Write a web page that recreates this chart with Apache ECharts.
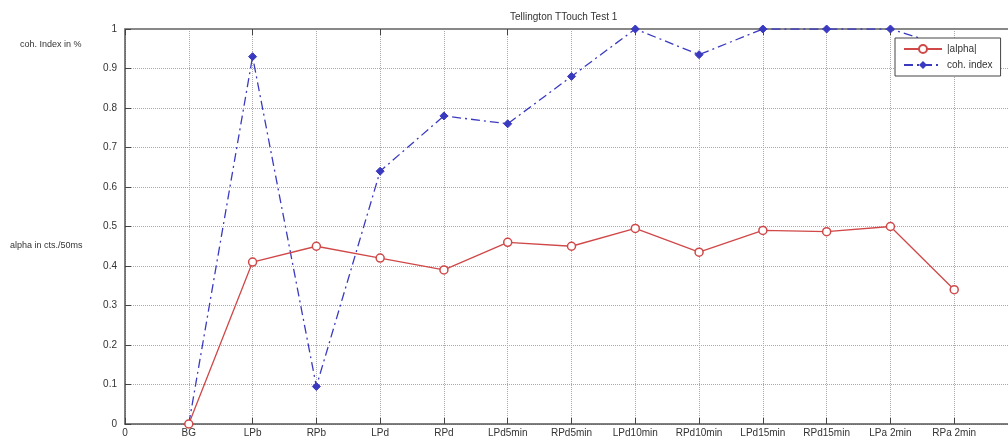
<!DOCTYPE html>
<html><head><meta charset="utf-8">
<script src="https://cdn.jsdelivr.net/npm/echarts@6/dist/echarts.min.js"></script>
<style>html,body{margin:0;padding:0;background:#fff;overflow:hidden}#c{width:1030px;height:441px}</style>
</head><body><div id="c"></div>
<script>
const categories = ['0','BG','LPb','RPb','LPd','RPd','LPd5min','RPd5min','LPd10min','RPd10min','LPd15min','RPd15min','LPa 2min','RPa 2min',''];
const alphaValues = [null,0,0.41,0.45,0.42,0.39,0.46,0.45,0.495,0.435,0.49,0.487,0.50,0.34];
const cohValues = [null,0,0.93,0.095,0.64,0.78,0.76,0.88,1.0,0.935,1.0,1.0,1.0,0.95];
const yTicks = [0,0.1,0.2,0.3,0.4,0.5,0.6,0.7,0.8,0.9,1];
const FONT = 'Liberation Sans, Arial, sans-serif';
const chart = echarts.init(document.getElementById('c'));
chart.setOption({
  animation:false,
  backgroundColor:'#fff',
  title:{text:'Tellington TTouch Test 1',left:505,top:7,textStyle:{fontSize:10,fontWeight:'normal',color:'#333',fontFamily:FONT}},
  grid:{left:125,top:29,right:12,bottom:17},
  legend:{orient:'vertical',left:895,top:38,padding:[6,8,6,8],itemGap:6,itemWidth:38,itemHeight:10,
    backgroundColor:'#fff',borderColor:'#444',borderWidth:1,z:20,
    textStyle:{fontSize:10,color:'#333',fontFamily:FONT},
    data:['|alpha|','coh. index']},
  xAxis:[{type:'category',data:categories,boundaryGap:false,position:'bottom',
    axisLine:{lineStyle:{color:'#555',width:1.5}},
    axisTick:{inside:true,length:6,lineStyle:{color:'#444'}},
    axisLabel:{fontSize:10,color:'#333',fontFamily:FONT,margin:4,interval:0},
    splitLine:{show:true,lineStyle:{type:'dotted',color:'#aaa'}}},
    {type:'category',data:categories,boundaryGap:false,position:'top',
    axisLine:{lineStyle:{color:'#888',width:2}},
    axisTick:{inside:true,length:6,lineStyle:{color:'#444'}},
    axisLabel:{show:false},splitLine:{show:false}}],
  yAxis:{type:'value',min:0,max:1,interval:0.1,
    axisLine:{show:true,lineStyle:{color:'#555',width:1.5}},
    axisTick:{show:true,inside:true,length:6,lineStyle:{color:'#444'}},
    axisLabel:{fontSize:10,color:'#333',fontFamily:FONT,margin:8,
      formatter:v=>{const t=yTicks.find(x=>Math.abs(x-v)<1e-6);return t===undefined?'':(t===0||t===1?String(t):t.toFixed(1));}},
    splitLine:{show:true,lineStyle:{type:'dotted',color:'#aaa'}}},
  graphic:[
    {type:'text',left:20,top:40,style:{text:'coh. Index in %',fontSize:9,fill:'#333',fontFamily:FONT}},
    {type:'text',left:10,top:241,style:{text:'alpha in cts./50ms',fontSize:9,fill:'#333',fontFamily:FONT}}
  ],
  series:[
    {name:'|alpha|',type:'line',data:alphaValues,symbol:'circle',symbolSize:8,
      itemStyle:{color:'#fff',borderColor:'#d04848',borderWidth:1.5},
      lineStyle:{color:'#d04848',width:1.3},z:3},
    {name:'coh. index',type:'line',data:cohValues,symbol:'diamond',symbolSize:8,
      itemStyle:{color:'#3a3ac0',borderColor:'#3a3ac0'},
      lineStyle:{color:'#3a3ac0',width:1.3,type:[9,4,2,4]},z:2}
  ]
});
</script></body></html>
